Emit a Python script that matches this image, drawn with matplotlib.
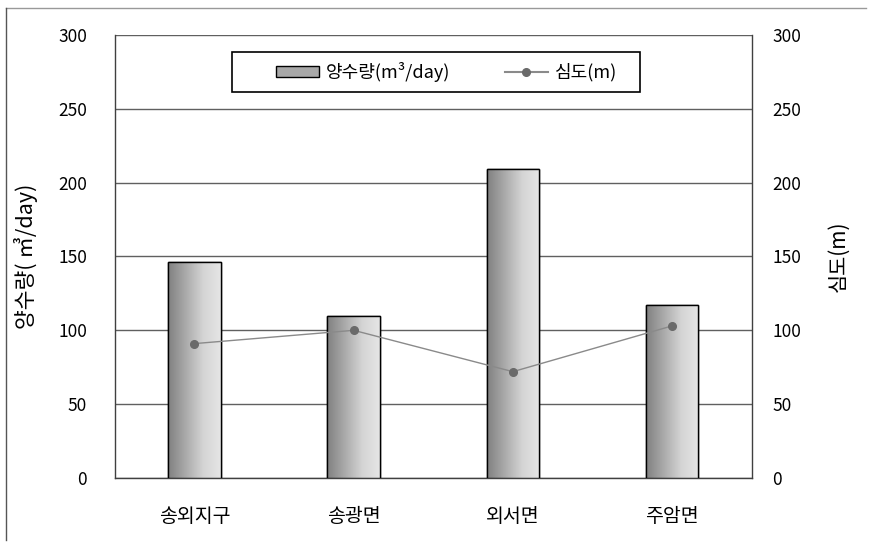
import numpy as np
import matplotlib.pyplot as plt
from matplotlib.lines import Line2D
from matplotlib.patches import Rectangle
from matplotlib.colors import LinearSegmentedColormap

plt.rcParams['font.family'] = ['Noto Sans CJK KR', 'DejaVu Sans']

# data
regions = ["송외지구", "송광면", "외서면", "주암면"]
pumping = [146, 110, 209, 117]     # 양수량 (m3/day)
depth = [91, 100, 72, 103]         # 심도 (m)
yticks = [0, 50, 100, 150, 200, 250, 300]

fig = plt.figure(figsize=(8.7, 5.51), dpi=100)
ax = fig.add_axes([0.132, 0.1325, 0.732, 0.804])
ax2 = ax.twinx()

x = np.arange(len(regions))
bars = ax.bar(x, pumping, width=0.33, color="#b0b0b0", edgecolor="black",
              linewidth=1.0, zorder=3)

# horizontal gray gradient inside each bar
bar_cmap = LinearSegmentedColormap.from_list(
    "bargrad", ["#808080", "#aaaaaa", "#d4d4d4", "#e6e6e6"])
grad = np.linspace(0, 1, 256).reshape(1, -1)
for b in bars:
    x0, y0 = b.get_x(), b.get_y()
    w, h = b.get_width(), b.get_height()
    im = ax.imshow(grad, cmap=bar_cmap, aspect="auto",
                   extent=[x0, x0 + w, y0, y0 + h], zorder=3.5,
                   interpolation="bicubic")
    im.set_clip_path(b)
    ax.add_patch(Rectangle((x0, y0), w, h, fill=False, edgecolor="black",
                           linewidth=1.0, zorder=4))

ax2.plot(x, depth, color="#8a8a8a", linewidth=1.0, marker="o",
         markersize=5.5, markerfacecolor="#6a6a6a", markeredgecolor="#6a6a6a",
         zorder=5)

for a in (ax, ax2):
    a.set_ylim(0, 300)
    a.set_yticks(yticks)
    a.tick_params(axis="y", length=0, labelsize=12.5)
    for s in a.spines.values():
        s.set_visible(False)
ax.tick_params(axis="y", pad=20)
ax2.tick_params(axis="y", pad=15)
ax.set_xlim(-0.5, len(regions) - 0.5)
ax.set_xticks(x)
ax.set_xticklabels(regions, fontsize=14)
ax.tick_params(axis="x", length=0, pad=20)

ax.spines["left"].set_visible(True)
ax.spines["bottom"].set_visible(True)
ax2.spines["right"].set_visible(True)
for s in (ax.spines["left"], ax.spines["bottom"], ax2.spines["right"]):
    s.set_color("#404040")
    s.set_linewidth(1.0)

ax.yaxis.grid(True, color="#606060", linewidth=1.0, zorder=0)
ax.set_axisbelow(True)
ax2.set_zorder(ax.get_zorder() + 1)
ax2.patch.set_visible(False)

ax.set_ylabel("양수량( ㎥/day)", fontsize=15.5)
ax.yaxis.set_label_coords(-0.121, 0.5)
ax2.set_ylabel("심도(m)", fontsize=15, rotation=90)
ax2.yaxis.set_label_coords(1.119, 0.5)

# legend box and entries
ax2.add_patch(Rectangle((0.184, 0.871), 0.64, 0.091, transform=ax2.transAxes,
                        facecolor="white", edgecolor="black", linewidth=1.2,
                        zorder=9))
h1 = Rectangle((0, 0), 1, 1, facecolor="#a8a8a8", edgecolor="black")
h2 = Line2D([], [], color="#8a8a8a", marker="o", markersize=5.5,
            markerfacecolor="#6a6a6a", markeredgecolor="#6a6a6a")
leg = ax2.legend([h1, h2], ["양수량(m³/day)", "심도(m)"], loc="center",
                 bbox_to_anchor=(0.521, 0.9165), ncol=2, frameon=False,
                 fontsize=13, columnspacing=3.0, handlelength=2.4,
                 handleheight=0.6, handletextpad=0.4, borderpad=0.2)
leg.set_zorder(10)

# outer frame lines
fig.add_artist(Line2D([0.007, 0.995], [0.985, 0.985], color="#999999", linewidth=1.0))
fig.add_artist(Line2D([0.007, 0.007], [0.02, 0.985], color="#555555", linewidth=1.0))

fig.savefig("out.png", dpi=100)
